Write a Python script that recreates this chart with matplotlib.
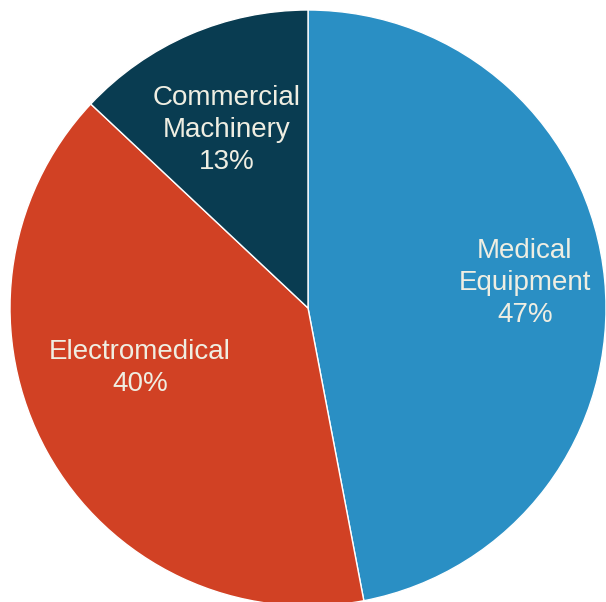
import numpy as np
import matplotlib
matplotlib.use("Agg")
import matplotlib.pyplot as plt

categories = ["Medical\nEquipment", "Electromedical", "Commercial\nMachinery"]
values = [47, 40, 13]
colors = ["#2a8fc4", "#d14124", "#093c51"]

# per-label placement (radial fraction, angle offset in degrees)
label_r = [0.734, 0.596, 0.665]
label_dangle = [2.0, -10.0, 0.7]

plt.rcParams['font.family'] = ['Liberation Sans', 'DejaVu Sans']

W, H = 606, 602
fig = plt.figure(figsize=(W / 100, H / 100), dpi=100)
cx, cy, R = 308, 308, 298
ax = fig.add_axes([(cx - R) / W, (H - cy - R) / H, 2 * R / W, 2 * R / H])
ax.axis('off')

wedges, _ = ax.pie(values, colors=colors, startangle=90, counterclock=False,
                   radius=1, center=(0, 0), frame=False,
                   wedgeprops=dict(edgecolor='white', linewidth=1))
ax.set_xlim(-1, 1)
ax.set_ylim(-1, 1)
ax.set_aspect('auto')

total = sum(values)
for w, cat, v, r, da in zip(wedges, categories, values, label_r, label_dangle):
    mid = np.deg2rad((w.theta1 + w.theta2) / 2 + da)
    ax.text(r * np.cos(mid), r * np.sin(mid) - 0.01, f"{cat}\n{round(100 * v / total)}%",
            ha='center', va='center', color='#efeee2', fontsize=20,
            linespacing=1.29)

fig.savefig("out.png", dpi=100)
